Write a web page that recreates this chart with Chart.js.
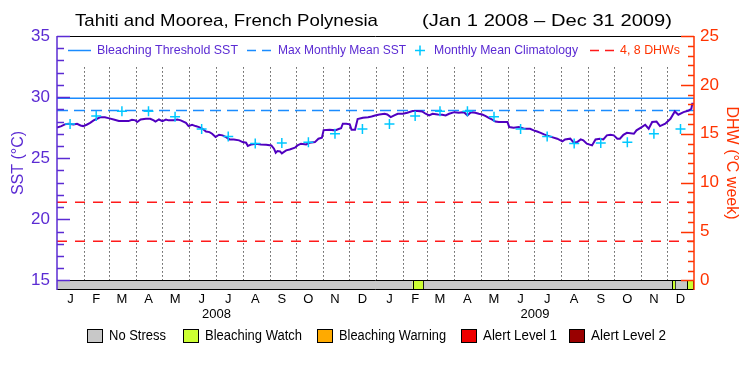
<!DOCTYPE html>
<html><head><meta charset="utf-8">
<script src="https://cdn.jsdelivr.net/npm/chart.js@4/dist/chart.umd.min.js"></script>
<style>html,body{margin:0;padding:0;background:#fff;}canvas{display:block;}</style>
</head><body>
<canvas id="c" width="750" height="375"></canvas>
<script>
// ---------------- DATA ----------------
const chartTitle = 'Tahiti and Moorea, French Polynesia';
const chartPeriod = '(Jan 1 2008 \u2013 Dec 31 2009)';
// day index from Jan 1 2008 (0) to Dec 31 2009 (731)
const sstDays = [0,5,9,13,19,23,27,30,34,38,42,46,50,55,59,65,71,78,82,86,90,92,96,102,107,111,113,117,121,125,128,134,138,142,148,151,155,159,163,167,171,175,178,182,186,190,194,198,203,209,213,217,219,223,228,234,240,246,249,251,253,256,258,263,267,273,276,280,286,290,296,300,304,306,313,319,324,326,328,332,336,338,342,345,351,357,361,365,370,376,379,383,387,391,397,402,408,414,419,423,427,431,437,442,446,450,456,461,467,471,475,480,484,488,492,496,499,503,507,517,519,524,530,536,543,547,551,555,559,562,568,574,580,583,589,593,597,601,604,608,614,618,623,627,631,635,639,643,646,650,654,662,665,671,675,679,683,688,692,698,704,709,713,719,725,728,729,731];
const sstValues = [27.5,27.63,27.77,27.82,27.77,27.82,27.68,27.63,27.74,27.9,28.1,28.23,28.36,28.36,28.28,28.17,28.04,28.04,28.04,28.15,28.1,27.96,28.17,28.23,28.23,28.1,28.0,28.17,28.04,28.17,28.1,28.1,28.17,28.1,27.9,27.63,27.74,27.63,27.55,27.41,27.19,27.14,27.0,26.73,26.92,26.87,26.73,26.54,26.54,26.46,26.32,26.27,26.0,26.13,26.19,26.13,26.1,26.05,25.78,25.45,25.59,25.56,25.4,25.64,25.72,25.86,26.05,26.19,26.13,26.27,26.32,26.6,26.68,27.3,27.33,27.28,27.41,27.45,27.82,27.82,27.77,27.33,27.33,28.2,28.31,28.36,28.42,28.5,28.58,28.64,28.58,28.36,28.5,28.64,28.64,28.72,28.86,28.86,28.83,28.64,28.5,28.64,28.58,28.56,28.5,28.64,28.77,28.72,28.77,28.5,28.77,28.72,28.64,28.58,28.45,28.28,28.17,28.0,27.96,27.96,27.55,27.5,27.55,27.41,27.41,27.28,27.19,27.08,26.95,26.87,26.73,26.6,26.38,26.54,26.6,26.27,26.32,26.54,26.46,26.19,26.05,26.54,26.6,26.54,26.87,26.92,26.87,26.6,26.6,26.92,27.08,27.0,27.28,27.55,27.74,27.41,27.96,28.0,27.63,27.82,28.23,28.83,28.56,28.77,28.9,29.05,29.45,29.45];
const climDays = [15,45,74.5,105,135.5,166,196.5,227.5,258,288.5,319,350.5,381.5,411,439.5,471,501.5,532,562.5,593.5,624,654.5,685,715.5];
const climValues = [27.8,28.45,28.85,28.85,28.4,27.4,26.78,26.2,26.25,26.3,27.0,27.4,27.8,28.45,28.85,28.85,28.4,27.4,26.78,26.2,26.25,26.3,27.0,27.4];
const bleachingThreshold = 29.9;
const maxMonthlyMean = 28.9;
const dhwLevels = [4, 8];
const monthStartDays = [0,31,60,91,121,152,182,213,244,274,305,335,366,397,425,456,486,517,547,578,609,639,670,700,731];
const monthMidDays = [15.5,45,74.5,105,135.5,166,196.5,227.5,258,288.5,319,350.5,381.5,411,439.5,471,501.5,532,562.5,593.5,624,654.5,685,715.5];
const monthLabels = ['J','F','M','A','M','J','J','A','S','O','N','D','J','F','M','A','M','J','J','A','S','O','N','D'];
const yearMidDays = [183, 548.5];
const yearLabels = ['2008', '2009'];
const sstTicks = [15,16,17,18,19,20,21,22,23,24,25,26,27,28,29,30,31,32,33,34,35];
const dhwTicks = [0,1,2,3,4,5,6,7,8,9,10,11,12,13,14,15,16,17,18,19,20,21,22,23,24,25];
const stressStart = [0,408,421,706,710,723];
const stressEnd = [408,421,706,710,723,731];
const stressLevel = [0,1,0,1,0,1];
const stressNames = ['No Stress','Bleaching Watch','Bleaching Warning','Alert Level 1','Alert Level 2'];
const legendNames = ['Bleaching Threshold SST','Max Monthly Mean SST','Monthly Mean Climatology','4, 8 DHWs'];

// ---------------- STYLE ----------------
const FONT = '"Liberation Sans", Arial, sans-serif';
const C = {purple:'#5b2bd3', sst:'#5000c0', orange:'#ff3300', blue:'#1a8cff', cyan:'#00c8ff', red:'#ff1a1a'};
const stressFill = ['#c8c8c8','#ccff33','#ffaa00','#ee0000','#990000'];
const dayMax = monthStartDays[monthStartDays.length-1];
const gridTopDhw = 22;

// draw text stretched to a given width (left edge x)
function fitText(ctx, text, x, y, w) {
  const m = ctx.measureText(text).width;
  ctx.save(); ctx.translate(x, y); ctx.scale(w / m, 1); ctx.textAlign = 'left';
  ctx.fillText(text, 0, 0); ctx.restore();
}

const decor = {
  id: 'decor',
  beforeDatasetsDraw(chart) {
    const {ctx, chartArea: a, scales: {x, y, y2}} = chart;
    ctx.save();
    // dotted month grid
    ctx.strokeStyle = '#000'; ctx.lineWidth = 1; ctx.setLineDash([1, 3]);
    const yTop = y2.getPixelForValue(gridTopDhw), yBot = y.getPixelForValue(sstTicks[0]);
    monthStartDays.slice(1, -1).forEach(d => {
      const px = Math.round(x.getPixelForValue(d)) + 0.5;
      ctx.beginPath(); ctx.moveTo(px, yBot); ctx.lineTo(px, yTop); ctx.stroke();
    });
    ctx.setLineDash([]);
    // stress bar
    const b0 = y.getPixelForValue(sstTicks[0]), b1 = a.bottom;
    stressStart.forEach((s, i) => {
      const x0 = x.getPixelForValue(s), x1 = x.getPixelForValue(stressEnd[i]);
      ctx.fillStyle = stressFill[stressLevel[i]];
      ctx.fillRect(x0, b0, x1 - x0, b1 - b0);
      if (stressLevel[i] > 0) {
        ctx.strokeStyle = '#000'; ctx.lineWidth = 1;
        ctx.beginPath();
        ctx.moveTo(Math.round(x0) + 0.5, b0); ctx.lineTo(Math.round(x0) + 0.5, b1);
        ctx.moveTo(Math.round(x1) - 0.5, b0); ctx.lineTo(Math.round(x1) - 0.5, b1);
        ctx.stroke();
      }
    });
    ctx.strokeStyle = '#000'; ctx.lineWidth = 1;
    ctx.beginPath(); ctx.moveTo(a.left, Math.round(b0) + 0.5); ctx.lineTo(a.right, Math.round(b0) + 0.5); ctx.stroke();
    ctx.restore();
  },
  afterDatasetsDraw(chart) {
    const {ctx, chartArea: a, scales: {y, y2}} = chart;
    ctx.save();
    // frame
    ctx.lineWidth = 1;
    ctx.strokeStyle = '#000';
    ctx.beginPath(); ctx.moveTo(a.left, a.top + 0.5); ctx.lineTo(a.right, a.top + 0.5);
    ctx.moveTo(a.left, a.bottom - 0.5); ctx.lineTo(a.right, a.bottom - 0.5); ctx.stroke();
    ctx.lineWidth = 1.5;
    ctx.strokeStyle = C.purple;
    ctx.beginPath(); ctx.moveTo(a.left, a.top); ctx.lineTo(a.left, a.bottom); ctx.stroke();
    sstTicks.forEach(v => {
      const py = Math.round(y.getPixelForValue(v)) + 0.5;
      ctx.beginPath(); ctx.moveTo(a.left, py); ctx.lineTo(a.left + (v % 5 === 0 ? 13 : 7), py); ctx.stroke();
    });
    ctx.strokeStyle = C.orange;
    ctx.beginPath(); ctx.moveTo(a.right, a.top); ctx.lineTo(a.right, a.bottom); ctx.stroke();
    dhwTicks.forEach(v => {
      const py = Math.round(y2.getPixelForValue(v)) + 0.5;
      ctx.beginPath(); ctx.moveTo(a.right, py); ctx.lineTo(a.right - (v % 5 === 0 ? 13 : 6), py); ctx.stroke();
    });
    // top legend
    const ly = 50.5;
    ctx.lineWidth = 1.5;
    ctx.strokeStyle = C.blue;
    ctx.beginPath(); ctx.moveTo(68, ly); ctx.lineTo(91, ly); ctx.stroke();
    ctx.setLineDash([9, 6]);
    ctx.beginPath(); ctx.moveTo(247, ly); ctx.lineTo(272, ly); ctx.stroke();
    ctx.strokeStyle = C.red;
    ctx.beginPath(); ctx.moveTo(590, ly); ctx.lineTo(614, ly); ctx.stroke();
    ctx.setLineDash([]);
    ctx.strokeStyle = C.cyan;
    ctx.beginPath(); ctx.moveTo(415, ly); ctx.lineTo(425, ly); ctx.moveTo(420, ly - 5); ctx.lineTo(420, ly + 5); ctx.stroke();
    ctx.font = '13px ' + FONT; ctx.textBaseline = 'middle';
    ctx.fillStyle = C.purple;
    fitText(ctx, legendNames[0], 97, ly, 141);
    fitText(ctx, legendNames[1], 278, ly, 128);
    fitText(ctx, legendNames[2], 434, ly, 144);
    ctx.fillStyle = C.orange;
    fitText(ctx, legendNames[3], 620, ly, 60);
    // title
    ctx.fillStyle = '#000'; ctx.font = '17px ' + FONT;
    fitText(ctx, chartTitle, 75, 21, 303);
    fitText(ctx, chartPeriod, 422, 21, 250);
    // bottom legend
    const boxX = [87, 183, 317, 461, 569];
    const textW = [57, 97, 107, 74, 75];
    ctx.font = '14px ' + FONT;
    stressNames.forEach((n, i) => {
      ctx.fillStyle = stressFill[i];
      ctx.fillRect(boxX[i], 329, 16, 14);
      ctx.strokeStyle = '#000'; ctx.lineWidth = 1;
      ctx.strokeRect(boxX[i] + 0.5, 329.5, 15, 13);
      ctx.fillStyle = '#000';
      fitText(ctx, n, boxX[i] + 22, 336.5, textW[i]);
    });
    ctx.restore();
  }
};

const pts = (xs, ys) => xs.map((d, i) => ({x: d, y: ys[i]}));
const hline = v => [{x: 0, y: v}, {x: dayMax, y: v}];

new Chart(document.getElementById('c'), {
  type: 'line',
  data: {
    datasets: [
      {label: 'Monthly Mean Climatology', data: pts(climDays, climValues), showLine: false, pointStyle: 'cross',
       pointRadius: 5, pointBorderColor: C.cyan, pointBorderWidth: 1.5, borderColor: C.cyan, yAxisID: 'y', order: 0},
      {label: 'SST', data: pts(sstDays, sstValues), borderColor: C.sst, borderWidth: 2, pointRadius: 0, yAxisID: 'y', order: 1},
      {label: legendNames[0], data: hline(bleachingThreshold), borderColor: C.blue, borderWidth: 1.5, pointRadius: 0, yAxisID: 'y', order: 2},
      {label: legendNames[1], data: hline(maxMonthlyMean), borderColor: C.blue, borderWidth: 1.5, borderDash: [11, 6], pointRadius: 0, yAxisID: 'y', order: 2},
      {label: '4 DHW', data: hline(dhwLevels[0]), borderColor: C.red, borderWidth: 1.5, borderDash: [10, 8], pointRadius: 0, yAxisID: 'y2', order: 3},
      {label: '8 DHW', data: hline(dhwLevels[1]), borderColor: C.red, borderWidth: 1.5, borderDash: [10, 8], pointRadius: 0, yAxisID: 'y2', order: 3}
    ]
  },
  options: {
    responsive: false, animation: false, devicePixelRatio: 1,
    layout: {padding: {top: 36, bottom: 50, left: 0, right: 0}},
    elements: {line: {tension: 0}},
    plugins: {legend: {display: false}, tooltip: {enabled: false}, title: {display: false}},
    scales: {
      x: {type: 'linear', position: 'bottom', min: 0, max: dayMax,
          afterBuildTicks: s => { s.ticks = monthMidDays.map(v => ({value: v})); },
          afterFit: s => { s.height = 16; },
          ticks: {autoSkip: false, maxRotation: 0, padding: 2, color: '#000', font: {family: FONT, size: 13},
                  callback: (v, i) => monthLabels[i]},
          grid: {display: false, drawTicks: false}, border: {display: false}},
      xYear: {type: 'linear', position: 'bottom', min: 0, max: dayMax,
          afterBuildTicks: s => { s.ticks = yearMidDays.map(v => ({value: v})); },
          afterFit: s => { s.height = 19; },
          ticks: {autoSkip: false, maxRotation: 0, padding: 1, color: '#000', font: {family: FONT, size: 13},
                  callback: (v, i) => yearLabels[i]},
          grid: {display: false, drawTicks: false}, border: {display: false}},
      y: {type: 'linear', position: 'left', min: 14.22, max: 35,
          afterBuildTicks: s => { s.ticks = sstTicks.map(v => ({value: v})); },
          afterFit: s => { s.width = 57; },
          ticks: {autoSkip: false, padding: 7, color: C.purple, font: {family: FONT, size: 17},
                  callback: v => (v % 5 === 0 ? String(v) : '')},
          title: {display: true, text: 'SST (\u00b0C)', color: C.purple, font: {family: FONT, size: 16}, padding: {top: 9, bottom: 0}},
          grid: {display: false, drawTicks: false}, border: {display: false}},
      y2: {type: 'linear', position: 'right', min: -0.975, max: 25,
          afterBuildTicks: s => { s.ticks = dhwTicks.map(v => ({value: v})); },
          afterFit: s => { s.width = 56; },
          ticks: {autoSkip: false, padding: 6, color: C.orange, font: {family: FONT, size: 17},
                  callback: v => (v % 5 === 0 ? String(v) : '')},
          title: {display: true, text: 'DHW (\u00b0C week)', color: C.orange, font: {family: FONT, size: 16}, padding: {top: 9, bottom: 0}},
          grid: {display: false, drawTicks: false}, border: {display: false}}
    }
  },
  plugins: [decor]
});
</script>
</body></html>
